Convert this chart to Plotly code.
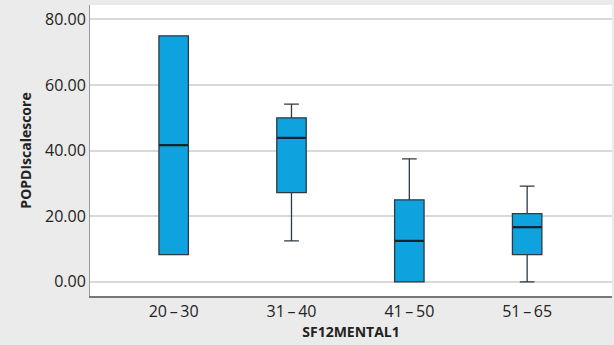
import plotly.graph_objects as go

categories = ["20\u2009–\u200930", "31\u2009–\u200940", "41\u2009–\u200950", "51\u2009–\u200965"]
lower_whisker = [8.33, 12.5, 0.0, 0.0]
q1 = [8.33, 27.2, 0.0, 8.33]
median = [41.67, 43.9, 12.5, 16.67]
q3 = [75.0, 50.0, 25.0, 20.83]
upper_whisker = [75.0, 54.17, 37.5, 29.17]
y_ticks = [0, 20, 40, 60, 80]
y_ticklabels = ["0.00", "20.00", "40.00", "60.00", "80.00"]

FONT = "Open Sans"
positions = list(range(len(categories)))

fig = go.Figure()
fig.add_trace(go.Box(
    x=positions,
    q1=q1, median=median, q3=q3,
    lowerfence=lower_whisker, upperfence=upper_whisker,
    width=0.25,
    whiskerwidth=0.5,
    fillcolor="#0EA3DF",
    line=dict(color="#2E3A44", width=1.3),
    boxpoints=False,
    hoverinfo="skip",
    showlegend=False,
))

# thicker median lines, drawn from the median values
for i, m in enumerate(median):
    fig.add_trace(go.Scatter(
        x=[positions[i] - 0.122, positions[i] + 0.122], y=[m, m],
        mode="lines", line=dict(color="#16222C", width=2.2),
        hoverinfo="skip", showlegend=False,
    ))

fig.update_layout(
    width=614, height=345,
    margin=dict(l=90, r=2, t=5, b=49),
    paper_bgcolor="#EBEBEB",
    plot_bgcolor="#FFFFFF",
    font=dict(family=FONT, color="#222222", size=16),
    xaxis=dict(
        range=[-0.71, 3.72],
        tickmode="array", tickvals=positions, ticktext=categories,
        showgrid=False, zeroline=False,
        showline=True, linecolor="#777777", linewidth=1.5,
        ticks="", ticklen=0,
        tickfont=dict(size=16, family=FONT, color="#222222"),
        title=dict(text="<b>SF12MENTAL1</b>", font=dict(size=14, family=FONT, color="#222222"), standoff=5),
    ),
    yaxis=dict(
        range=[-4.3, 84.4],
        tickmode="array", tickvals=y_ticks, ticktext=y_ticklabels,
        showgrid=True, gridcolor="#D9D9D9", gridwidth=1.5,
        zeroline=False,
        showline=True, linecolor="#999999", linewidth=1,
        ticks="", ticklen=0,
        tickfont=dict(size=16, family=FONT, color="#222222"),
        title=dict(text="<b>POPDIscalescore</b>", font=dict(size=14, family=FONT, color="#222222"), standoff=10),
    ),
)

fig.write_html(
    "out.html",
    config={"displayModeBar": False},
    post_script="document.body.style.margin='0';document.body.style.background='#EBEBEB';",
)
